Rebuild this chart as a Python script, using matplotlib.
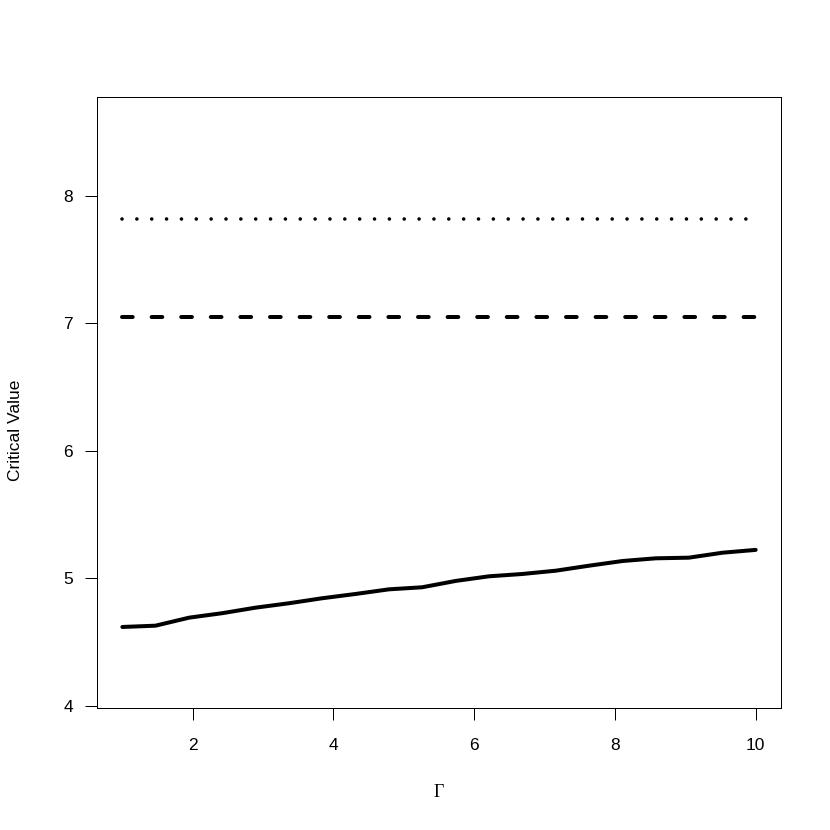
import matplotlib
matplotlib.use("Agg")
import matplotlib.pyplot as plt

# data
gamma = [1.00, 1.47, 1.95, 2.42, 2.89, 3.37, 3.84, 4.32, 4.79, 5.26,
         5.74, 6.21, 6.68, 7.16, 7.63, 8.11, 8.58, 9.05, 9.53, 10.00]
crit_values = [4.619, 4.629, 4.692, 4.727, 4.770, 4.805, 4.844, 4.878, 4.914, 4.930,
               4.980, 5.016, 5.034, 5.060, 5.099, 5.136, 5.157, 5.162, 5.201, 5.223]
dotted_level = 7.815
dashed_level = 7.045
x_ticks = [2, 4, 6, 8, 10]
y_ticks = [4, 5, 6, 7, 8]

plt.rcParams['font.family'] = ['Liberation Sans', 'DejaVu Sans']
plt.rcParams['lines.scale_dashes'] = False

px = 0.72  # points per pixel at dpi 100

fig = plt.figure(figsize=(8.3, 8.3), dpi=100)
ax = fig.add_axes([97/830, 1 - 708/830, (781-97)/830, (708-97)/830])

ax.plot(gamma, crit_values, color='black', lw=4*px, solid_capstyle='round',
        solid_joinstyle='round')
ax.plot([gamma[0], gamma[-1]], [dashed_level, dashed_level], color='black', lw=4*px,
        linestyle=(0, (10.7*px, 18.9*px)), dash_capstyle='round')
ax.plot([gamma[0], gamma[-1]], [dotted_level, dotted_level], color='black', lw=3.6*px,
        linestyle=(0, (0.01, 14.84*px)), dash_capstyle='round')

ax.set_xlim(0.64, 10.36)
ax.set_ylim(3.984, 8.772)
ax.set_xticks(x_ticks)
ax.set_yticks(y_ticks)
ax.set_xticklabels([str(t) for t in x_ticks])
ax.set_yticklabels([str(t) for t in y_ticks])
ax.tick_params(axis='both', direction='out', length=12*px, width=1*px,
               labelsize=12.5, color='black')
ax.tick_params(axis='x', pad=18*px)
ax.tick_params(axis='y', pad=12*px)
for s in ax.spines.values():
    s.set_linewidth(1*px)
    s.set_color('black')

fig.text(15/830, 1 - 430/830, 'Critical Value', rotation=90, ha='center', va='center',
         fontsize=12.5)
fig.text(439/830, 1 - 792/830, 'Γ', ha='center', va='center', fontsize=13,
         family=['Liberation Serif', 'DejaVu Serif'])

fig.savefig('out.png', dpi=100)
